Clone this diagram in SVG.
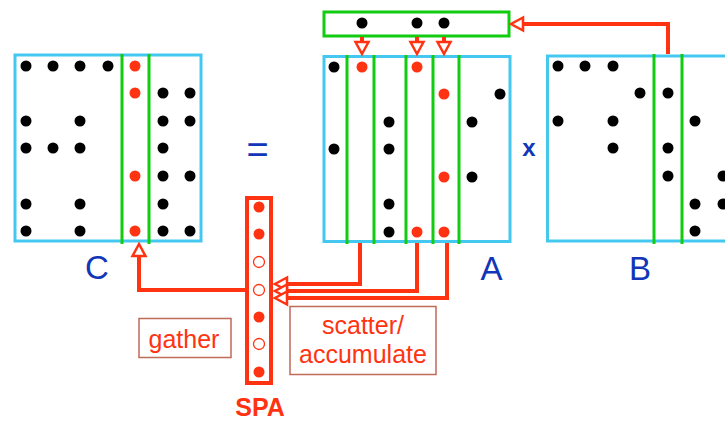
<svg xmlns="http://www.w3.org/2000/svg" width="725" height="421" viewBox="0 0 725 421">
<defs>
<style>
.mat{fill:#fff;stroke:#44c8f0;stroke-width:3}
.vec{fill:#fff;stroke:#11cc11;stroke-width:3}
.gl{stroke:#11cc11;stroke-width:3;fill:none}
.k{fill:#000}
.r{fill:#ff3311}
.h{fill:#fff;stroke:#ff3311;stroke-width:1.3}
.spa{fill:#fff;stroke:#ff3311;stroke-width:4}
.lbox{fill:#fff;stroke:#c06a58;stroke-width:1.5}
.conn{fill:none;stroke:#ff3311;stroke-width:4;stroke-linejoin:miter}
.blue{fill:#1136b8;font-family:"Liberation Sans",Arial,sans-serif;text-anchor:middle}
.red{fill:#ff3311;font-family:"Liberation Sans",Arial,sans-serif;text-anchor:middle;font-size:25px}
</style>
<marker id="ah" markerUnits="userSpaceOnUse" markerWidth="20" markerHeight="20" viewBox="-3 -10 20 20" refX="0" refY="0" orient="auto" overflow="visible">
<path d="M0,-6.5 L12,0 L0,6.5 Z" fill="#fff" stroke="#ff3311" stroke-width="2.5"/>
</marker>
</defs>

<g id="matrixC">
<rect class="mat" x="15" y="55" width="186" height="186"/>
<path class="gl" d="M122,54V244M149,54V244"/>
<circle class="k" cx="26" cy="66" r="5.5"/><circle class="k" cx="53" cy="66" r="5.5"/><circle class="k" cx="80" cy="66" r="5.5"/><circle class="k" cx="108" cy="66" r="5.5"/><circle class="r" cx="135" cy="66" r="5.5"/>
<circle class="r" cx="135" cy="93" r="5.5"/><circle class="k" cx="163" cy="93" r="5.5"/><circle class="k" cx="190" cy="93" r="5.5"/>
<circle class="k" cx="26" cy="121" r="5.5"/><circle class="k" cx="80" cy="121" r="5.5"/><circle class="k" cx="163" cy="121" r="5.5"/><circle class="k" cx="190" cy="121" r="5.5"/>
<circle class="k" cx="26" cy="148" r="5.5"/><circle class="k" cx="53" cy="148" r="5.5"/><circle class="k" cx="80" cy="148" r="5.5"/><circle class="k" cx="163" cy="148" r="5.5"/>
<circle class="r" cx="135" cy="176" r="5.5"/><circle class="k" cx="163" cy="176" r="5.5"/><circle class="k" cx="190" cy="176" r="5.5"/>
<circle class="k" cx="26" cy="204" r="5.5"/><circle class="k" cx="80" cy="204" r="5.5"/><circle class="k" cx="163" cy="204" r="5.5"/>
<circle class="k" cx="26" cy="231" r="5.5"/><circle class="k" cx="80" cy="231" r="5.5"/><circle class="r" cx="135" cy="231" r="5.5"/><circle class="k" cx="163" cy="231" r="5.5"/><circle class="k" cx="190" cy="231" r="5.5"/>
<text class="blue" x="97" y="279" font-size="33">C</text>
</g>

<g id="equals">
<text class="blue" x="257.5" y="163" font-size="38">=</text>
</g>

<g id="matrixA">
<rect class="mat" x="324" y="56.5" width="186" height="185"/>
<path class="gl" d="M347,55V244M374,55V244M406,55V244M433,55V244M459,55V244"/>
<circle class="k" cx="334" cy="67" r="5.5"/><circle class="r" cx="362" cy="67" r="5.5"/><circle class="r" cx="417" cy="67" r="5.5"/>
<circle class="r" cx="444" cy="94" r="5.5"/><circle class="k" cx="500" cy="94" r="5.5"/>
<circle class="k" cx="389" cy="122" r="5.5"/><circle class="k" cx="472" cy="122" r="5.5"/>
<circle class="k" cx="334" cy="149" r="5.5"/><circle class="k" cx="389" cy="149" r="5.5"/>
<circle class="r" cx="444" cy="177" r="5.5"/><circle class="k" cx="472" cy="177" r="5.5"/>
<circle class="k" cx="389" cy="204" r="5.5"/>
<circle class="k" cx="389" cy="232" r="5.5"/><circle class="r" cx="417" cy="232" r="5.5"/><circle class="r" cx="444" cy="232" r="5.5"/>
<text class="blue" x="491.5" y="280" font-size="33">A</text>
</g>

<g id="times">
<text class="blue" x="529" y="155.5" font-size="24" font-weight="bold">x</text>
</g>

<g id="matrixB">
<rect class="mat" x="547.5" y="56" width="200" height="185"/>
<path class="gl" d="M654,54V244M682,54V244"/>
<circle class="k" cx="558" cy="66" r="5.5"/><circle class="k" cx="585" cy="66" r="5.5"/><circle class="k" cx="613" cy="66" r="5.5"/>
<circle class="k" cx="640" cy="93" r="5.5"/><circle class="k" cx="668" cy="93" r="5.5"/>
<circle class="k" cx="558" cy="121" r="5.5"/><circle class="k" cx="613" cy="121" r="5.5"/><circle class="k" cx="695" cy="121" r="5.5"/>
<circle class="k" cx="613" cy="148" r="5.5"/><circle class="k" cx="668" cy="148" r="5.5"/>
<circle class="k" cx="668" cy="176" r="5.5"/><circle class="k" cx="723" cy="176" r="5.5"/>
<circle class="k" cx="695" cy="204" r="5.5"/><circle class="k" cx="723" cy="204" r="5.5"/>
<circle class="k" cx="695" cy="231" r="5.5"/>
<text class="blue" x="640" y="280" font-size="33">B</text>
</g>

<g id="bColumn">
<rect class="vec" x="324" y="12" width="185" height="24"/>
<circle class="k" cx="362" cy="23" r="5.5"/><circle class="k" cx="417" cy="23" r="5.5"/><circle class="k" cx="444" cy="23" r="5.5"/>
</g>

<g id="spa">
<rect class="spa" x="247" y="198" width="24" height="185"/>
<circle class="r" cx="259" cy="207" r="5.5"/>
<circle class="r" cx="259" cy="234" r="5.5"/>
<circle class="h" cx="259" cy="262" r="5.5"/>
<circle class="h" cx="259" cy="290" r="5.5"/>
<circle class="r" cx="259" cy="317" r="5.5"/>
<circle class="h" cx="259" cy="344" r="5.5"/>
<circle class="r" cx="259" cy="372" r="5.5"/>
<text class="red" x="260" y="416" font-weight="bold">SPA</text>
</g>

<g id="gatherLabel">
<rect class="lbox" x="139" y="318.5" width="92" height="39"/>
<text class="red" x="184" y="348">gather</text>
</g>

<g id="scatterLabel">
<rect class="lbox" x="290" y="306.5" width="146" height="68"/>
<text class="red" x="363" y="334">scatter/</text>
<text class="red" x="363" y="363">accumulate</text>
</g>

<g id="connectors">
<path class="conn" d="M668,54V24H523" marker-end="url(#ah)"/>
<path class="conn" d="M362,37V42" marker-end="url(#ah)"/>
<path class="conn" d="M417,37V42" marker-end="url(#ah)"/>
<path class="conn" d="M444,37V42" marker-end="url(#ah)"/>
<path class="conn" d="M360,243V284H287" marker-end="url(#ah)"/>
<path class="conn" d="M417,243V291H287" marker-end="url(#ah)"/>
<path class="conn" d="M447,243V298H287" marker-end="url(#ah)"/>
<path class="conn" d="M245,290H139V256" marker-end="url(#ah)"/>
</g>
</svg>
